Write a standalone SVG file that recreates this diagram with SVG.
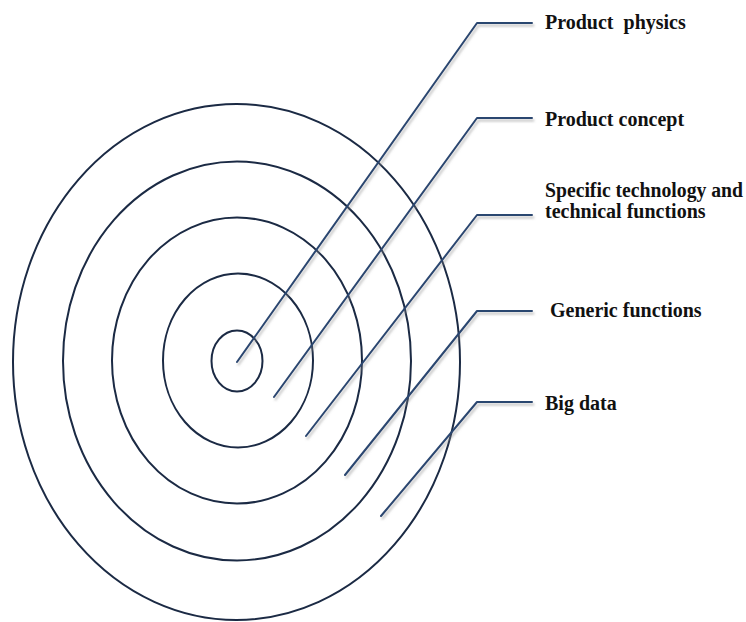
<svg xmlns="http://www.w3.org/2000/svg" width="746" height="622" viewBox="0 0 746 622">
  <defs>
    <filter id="soft-shadow" x="-10%" y="-10%" width="130%" height="130%">
      <feDropShadow dx="1.5" dy="2.5" stdDeviation="1.2" flood-color="#8a8a8a" flood-opacity="0.55"/>
    </filter>
  </defs>
  <style>
    .ring { fill: none; stroke: #1b2a44; stroke-width: 2; }
    .leader { fill: none; stroke: #2a4670; stroke-width: 2; stroke-linejoin: round; stroke-linecap: round; }
    .label { font-family: "Liberation Serif", "Times New Roman", serif; font-weight: bold; font-size: 20px; fill: #111111; white-space: pre; }
  </style>
  <rect width="746" height="622" fill="#ffffff"/>

  <!-- concentric layers -->
  <g id="rings">
    <ellipse class="ring" cx="236.5" cy="362" rx="223.5" ry="258"/>
    <ellipse class="ring" cx="237" cy="361" rx="174" ry="199.5"/>
    <ellipse class="ring" cx="237" cy="360.5" rx="125" ry="143"/>
    <ellipse class="ring" cx="238" cy="360.5" rx="75" ry="87"/>
    <ellipse class="ring" cx="237" cy="361" rx="25.5" ry="30.5"/>
  </g>

  <!-- leader lines from each layer to its label -->
  <g id="connectors" filter="url(#soft-shadow)">
    <polyline class="leader" points="237,362 477,23 532,23"/>
    <polyline class="leader" points="274,397 477,118 532,118"/>
    <polyline class="leader" points="306,436 477,215 532,215"/>
    <polyline class="leader" points="345,475 477,311 532,311"/>
    <polyline class="leader" points="381,516 477,402 532,402"/>
  </g>

  <g id="label-product-physics">
    <text class="label" x="545" y="29">Product  physics</text>
  </g>
  <g id="label-product-concept">
    <text class="label" x="545" y="126">Product concept</text>
  </g>
  <g id="label-specific-technology">
    <text class="label" x="545" y="197" textLength="198" lengthAdjust="spacingAndGlyphs">Specific technology and</text>
    <text class="label" x="545" y="218">technical functions</text>
  </g>
  <g id="label-generic-functions">
    <text class="label" x="550" y="317">Generic functions</text>
  </g>
  <g id="label-big-data">
    <text class="label" x="545" y="410">Big data</text>
  </g>
</svg>
